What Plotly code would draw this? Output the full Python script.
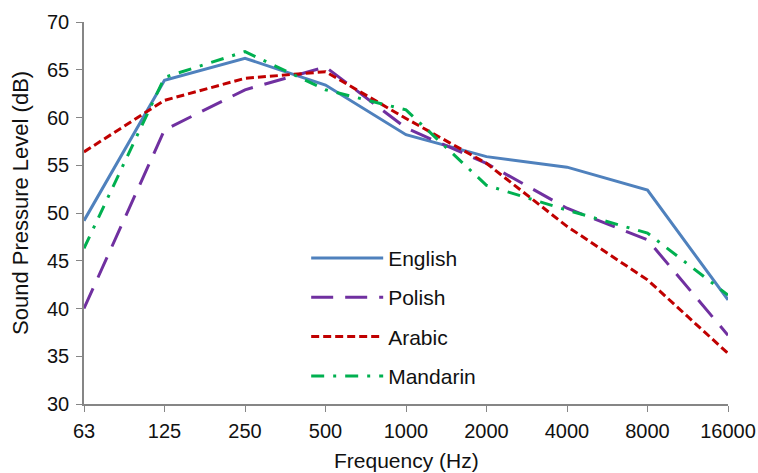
import plotly.graph_objects as go

freqs = ["63", "125", "250", "500", "1000", "2000", "4000", "8000", "16000"]
english = [49.2, 63.9, 66.2, 63.4, 58.2, 55.9, 54.8, 52.4, 40.9]
polish = [40.0, 58.7, 62.9, 65.3, 58.9, 55.2, 50.5, 47.2, 37.2]
arabic = [56.4, 61.8, 64.1, 64.8, 59.9, 55.2, 48.6, 43.0, 35.3]
mandarin = [46.3, 64.2, 66.9, 62.9, 60.8, 52.9, 50.3, 47.9, 41.4]

x_title = "Frequency (Hz)"
y_title = "Sound Pressure Level (dB)"

series = [
    ("English", english, "#4F81BD", "solid"),
    ("Polish", polish, "#7030A0", "22px,12px"),
    ("Arabic", arabic, "#C00000", "8px,4px"),
    ("Mandarin", mandarin, "#00B050", "13px,9px,3px,9px"),
]

fig = go.Figure()
for i, (name, vals, color, dash) in enumerate(series):
    fig.add_trace(go.Scatter(
        x=freqs, y=vals, name=name, mode="lines",
        line=dict(color=color, width=3, dash=dash),
        legendgroup=f"g{i}",
    ))

font = "Liberation Sans, Arial, sans-serif"
W, H = 758, 473
ml, mr, mt, mb = 84, 30, 22, 69
ph = H - mt - mb
pw = W - ml - mr

fig.update_layout(
    width=W, height=H,
    margin=dict(l=ml, r=mr, t=mt, b=mb, autoexpand=False),
    plot_bgcolor="white", paper_bgcolor="white",
    font=dict(family=font, size=20, color="#111111"),
    showlegend=True,
    legend=dict(
        x=0.345, y=0.435, xanchor="left", yanchor="top",
        bgcolor="rgba(0,0,0,0)", font=dict(size=21, color="#111111"),
        tracegroupgap=9, itemwidth=72,
    ),
    xaxis=dict(
        type="category", range=[0, 8], automargin=False,
        showline=True, linecolor="#868686", linewidth=1.5,
        ticks="outside", ticklen=6, tickcolor="#868686",
        showgrid=False, zeroline=False,
        tickfont=dict(size=20), ticklabelstandoff=2,
    ),
    yaxis=dict(
        range=[30, 70], dtick=5, automargin=False,
        showline=True, linecolor="#868686", linewidth=1.5,
        ticks="outside", ticklen=6, tickcolor="#868686",
        showgrid=False, zeroline=False,
        tickfont=dict(size=20), ticklabelstandoff=3,
    ),
    annotations=[
        dict(text=x_title, xref="paper", yref="paper",
             x=0.5, y=-(460 - (mt + ph)) / ph,
             xanchor="center", yanchor="middle", showarrow=False,
             font=dict(size=21, color="#111111")),
        dict(text=y_title, xref="paper", yref="paper",
             x=-(ml - 20) / pw, y=(mt + ph - 203) / ph,
             xanchor="center", yanchor="middle", showarrow=False,
             textangle=-90, font=dict(size=22, color="#111111")),
    ],
)

fig.write_html("out.html")
